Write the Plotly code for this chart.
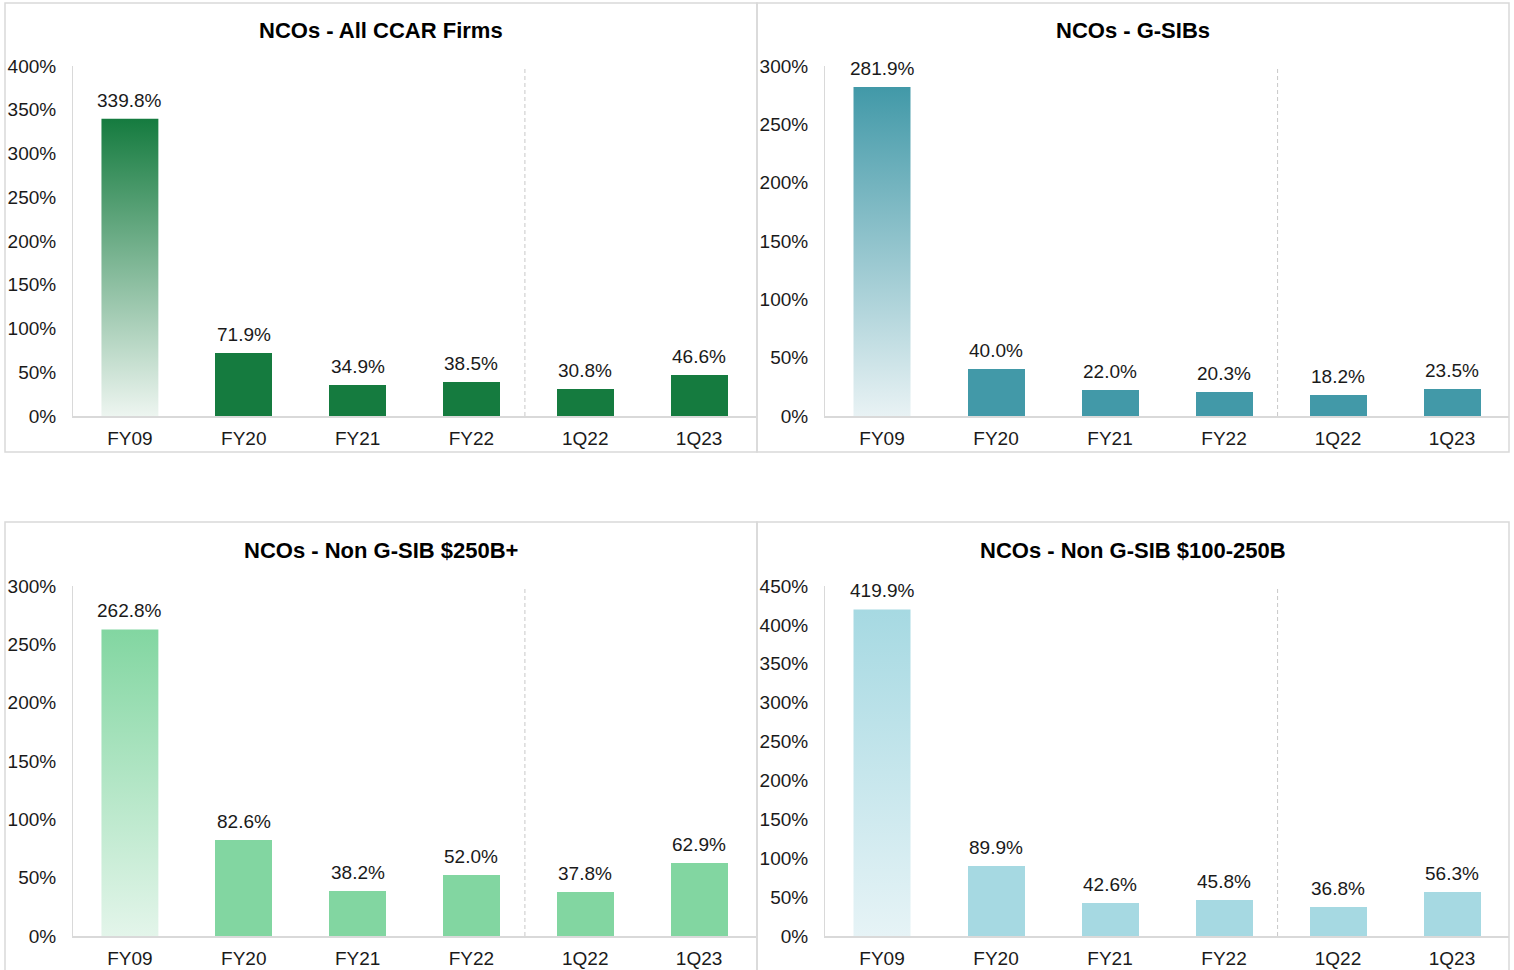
import plotly.graph_objects as go

# ── Dados ─────────────────────────────────────────────────────────────────────
categorias = ["FY09", "FY20", "FY21", "FY22", "1Q22", "1Q23"]

titulos = [
    "NCOs - All CCAR Firms",
    "NCOs - G-SIBs",
    "NCOs - Non G-SIB $250B+",
    "NCOs - Non G-SIB $100-250B",
]

nco_all_ccar = [339.8, 71.9, 34.9, 38.5, 30.8, 46.6]
nco_gsibs = [281.9, 40.0, 22.0, 20.3, 18.2, 23.5]
nco_non_gsib_250 = [262.8, 82.6, 38.2, 52.0, 37.8, 62.9]
nco_non_gsib_100_250 = [419.9, 89.9, 42.6, 45.8, 36.8, 56.3]

eixo_max = [400, 300, 300, 450]
eixo_passo = [50, 50, 50, 50]

cores = ["#157B3F", "#4299A8", "#82D6A1", "#A6D9E2"]
cores_fundo = ["#EDF5F0", "#E8F2F4", "#E3F5EA", "#E6F3F6"]

# ── Layout (px) ───────────────────────────────────────────────────────────────
W, H = 1514, 970
FONTE = "Arial, Liberation Sans, sans-serif"
LARGURA_BARRA = 0.5


def px_x(v):
    return v / W


def px_y(v):
    return (H - v) / H


# (x0, x1, y_topo, y_base) da área de plotagem; caixa do painel
areas = [
    (73, 756, 66, 416),
    (825, 1509, 66, 416),
    (73, 756, 586, 936),
    (825, 1509, 586, 936),
]
caixas = [
    (5, 757, 3, 452),
    (757, 1509, 3, 452),
    (5, 757, 522, 990),
    (757, 1509, 522, 990),
]

series = [nco_all_ccar, nco_gsibs, nco_non_gsib_250, nco_non_gsib_100_250]
idx = list(range(len(categorias)))

fig = go.Figure()

for i, valores in enumerate(series):
    n = "" if i == 0 else str(i + 1)
    xa, ya = "x" + n, "y" + n
    cor = cores[i]

    # barras sólidas (FY09 transparente — desenhado com gradiente abaixo)
    cores_barras = ["rgba(0,0,0,0)"] + [cor] * (len(valores) - 1)
    fig.add_trace(go.Bar(
        x=idx, y=valores, width=LARGURA_BARRA,
        marker=dict(color=cores_barras, line=dict(width=0)),
        xaxis=xa, yaxis=ya, showlegend=False,
        hovertemplate="%{y:.1f}%<extra></extra>",
    ))

    # FY09 com gradiente vertical
    v0 = valores[0]
    x0, x1 = idx[0] - LARGURA_BARRA / 2, idx[0] + LARGURA_BARRA / 2
    fig.add_trace(go.Scatter(
        x=[x0, x1, x1, x0, x0], y=[0, 0, v0, v0, 0],
        mode="lines", fill="toself", line=dict(width=0),
        fillgradient=dict(type="vertical",
                          colorscale=[[0, cores_fundo[i]], [1, cor]]),
        xaxis=xa, yaxis=ya, showlegend=False, hoverinfo="skip",
    ))

    # rótulos de dados
    for x, v in zip(idx, valores):
        fig.add_annotation(
            x=x, y=v, xref=xa, yref=ya, text=f"{v:.1f}%",
            showarrow=False, yanchor="bottom", yshift=6,
            font=dict(size=19, color="#1a1a1a", family=FONTE),
        )

    # separador tracejado entre anual e trimestral
    fig.add_shape(
        type="line", xref=xa, yref=ya + " domain",
        x0=3.47, x1=3.47, y0=0, y1=1,
        line=dict(color="#C8C8C8", width=1, dash="4px,3px"), layer="below",
    )

    ax0, ax1, ay_top, ay_base = areas[i]
    fig.layout["xaxis" + n] = dict(
        domain=[px_x(ax0), px_x(ax1)], anchor=ya,
        range=[-0.5, len(categorias) - 0.5],
        tickvals=idx, ticktext=categorias,
        showline=True, linecolor="#D9D9D9", linewidth=1.5,
        showgrid=False, zeroline=False, ticks="", automargin=False,
        ticklabelstandoff=4,
        tickfont=dict(size=19, color="#1a1a1a", family=FONTE),
    )
    fig.layout["yaxis" + n] = dict(
        domain=[px_y(ay_base), px_y(ay_top)], anchor=xa,
        range=[0, eixo_max[i]], dtick=eixo_passo[i], ticksuffix="%",
        showline=True, linecolor="#D9D9D9", linewidth=1,
        showgrid=False, zeroline=False, ticks="", automargin=False,
        ticklabelstandoff=12,
        tickfont=dict(size=19, color="#1a1a1a", family=FONTE),
    )

    # caixa do painel e título
    bx0, bx1, by0, by1 = caixas[i]
    fig.add_shape(
        type="rect", xref="paper", yref="paper",
        x0=px_x(bx0), x1=px_x(bx1), y0=px_y(by1), y1=px_y(by0),
        line=dict(color="#D9D9D9", width=1.5), layer="below",
    )
    fig.add_annotation(
        x=px_x((bx0 + bx1) / 2), y=px_y(by0 + 28), xref="paper", yref="paper",
        text=f"<b>{titulos[i]}</b>", showarrow=False,
        xanchor="center", yanchor="middle",
        font=dict(size=22, color="#000000", family=FONTE),
    )

fig.update_layout(
    width=W, height=H,
    margin=dict(l=0, r=0, t=0, b=0, autoexpand=False),
    paper_bgcolor="white", plot_bgcolor="white",
    bargap=0,
)

fig.write_html(
    "out.html",
    config={"displayModeBar": False},
    post_script="document.body.style.margin='0';",
)
